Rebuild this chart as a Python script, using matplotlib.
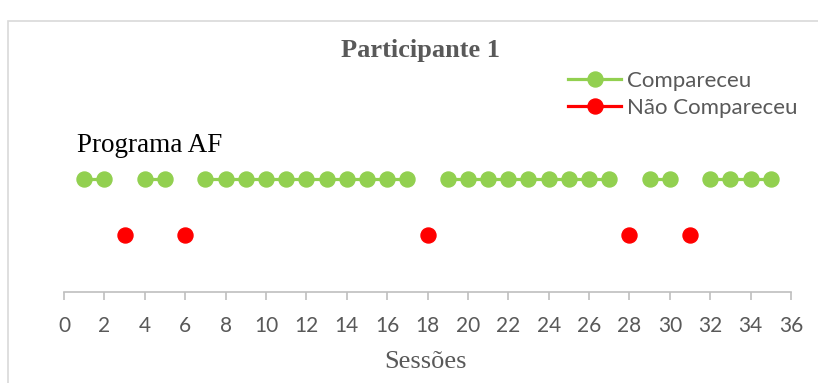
import numpy as np
import matplotlib.pyplot as plt
from matplotlib.patches import Rectangle
from matplotlib.lines import Line2D

# Sessions and attendance
attended = [1, 2, 4, 5, 7, 8, 9, 10, 11, 12, 13, 14, 15, 16, 17,
            19, 20, 21, 22, 23, 24, 25, 26, 27, 29, 30, 32, 33, 34, 35]
missed = [3, 6, 18, 28, 31]
level_attended = 2
level_missed = 1
xticks = list(range(0, 37, 2))

sessions = np.arange(1, 36)
att_y = np.array([level_attended if s in attended else np.nan for s in sessions], dtype=float)
mis_y = np.array([level_missed if s in missed else np.nan for s in sessions], dtype=float)

green = "#92D050"
red = "#FF0000"
grey_txt = "#595959"

fig = plt.figure(figsize=(8.18, 3.83), dpi=100)
fig.patches.append(Rectangle((8 / 818, -0.1), 1.2, (383 - 21) / 383 + 0.1,
                             transform=fig.transFigure, fill=False,
                             edgecolor="#D9D9D9", linewidth=1.2))

ax = fig.add_axes([64 / 818, 91 / 383, (791 - 64) / 818, 227 / 383])
ax.plot(sessions, att_y, color=green, linewidth=2.3, marker="o",
        markersize=10.8, markerfacecolor=green, markeredgecolor=green,
        clip_on=False)
ax.plot(sessions, mis_y, color=red, linewidth=2.3, marker="o",
        markersize=10.8, markerfacecolor=red, markeredgecolor=red,
        clip_on=False)

ax.set_xlim(0, 36)
ax.set_ylim(0, 4)
ax.set_xticks(xticks)
ax.set_yticks([])
for side in ("top", "right", "left"):
    ax.spines[side].set_visible(False)
ax.spines["bottom"].set_color("#BFBFBF")
ax.spines["bottom"].set_linewidth(1.2)
ax.tick_params(axis="x", direction="out", length=6, width=1.2,
               color="#BFBFBF", labelcolor=grey_txt, labelsize=15, pad=11)
for lbl in ax.get_xticklabels():
    lbl.set_fontfamily("Lato")

fig.text(426 / 818, (383 - 362) / 383, "Sessões", family="Liberation Serif",
         fontsize=19, color=grey_txt, ha="center", va="center")

fig.text(421 / 818, (383 - 51) / 383, "Participante 1", family="Liberation Serif",
         fontweight="bold", fontsize=19, color=grey_txt, ha="center", va="center")
fig.text(77 / 818, (383 - 146) / 383, "Programa AF", family="Liberation Serif",
         fontsize=19.5, color="black", ha="left", va="center")

handles = [Line2D([], [], color=green, linewidth=2.3, marker="o", markersize=10.8),
           Line2D([], [], color=red, linewidth=2.3, marker="o", markersize=10.8)]
leg = fig.legend(handles, ["Compareceu", "Não Compareceu"],
                 loc="upper left", bbox_to_anchor=(568 / 818, (383 - 71) / 383),
                 frameon=False, handlelength=2.4, handletextpad=0.25,
                 labelspacing=0.32, borderaxespad=0, borderpad=0,
                 prop={"family": "Lato", "size": 16})
for t in leg.get_texts():
    t.set_color(grey_txt)

fig.savefig("out.png", dpi=100)
